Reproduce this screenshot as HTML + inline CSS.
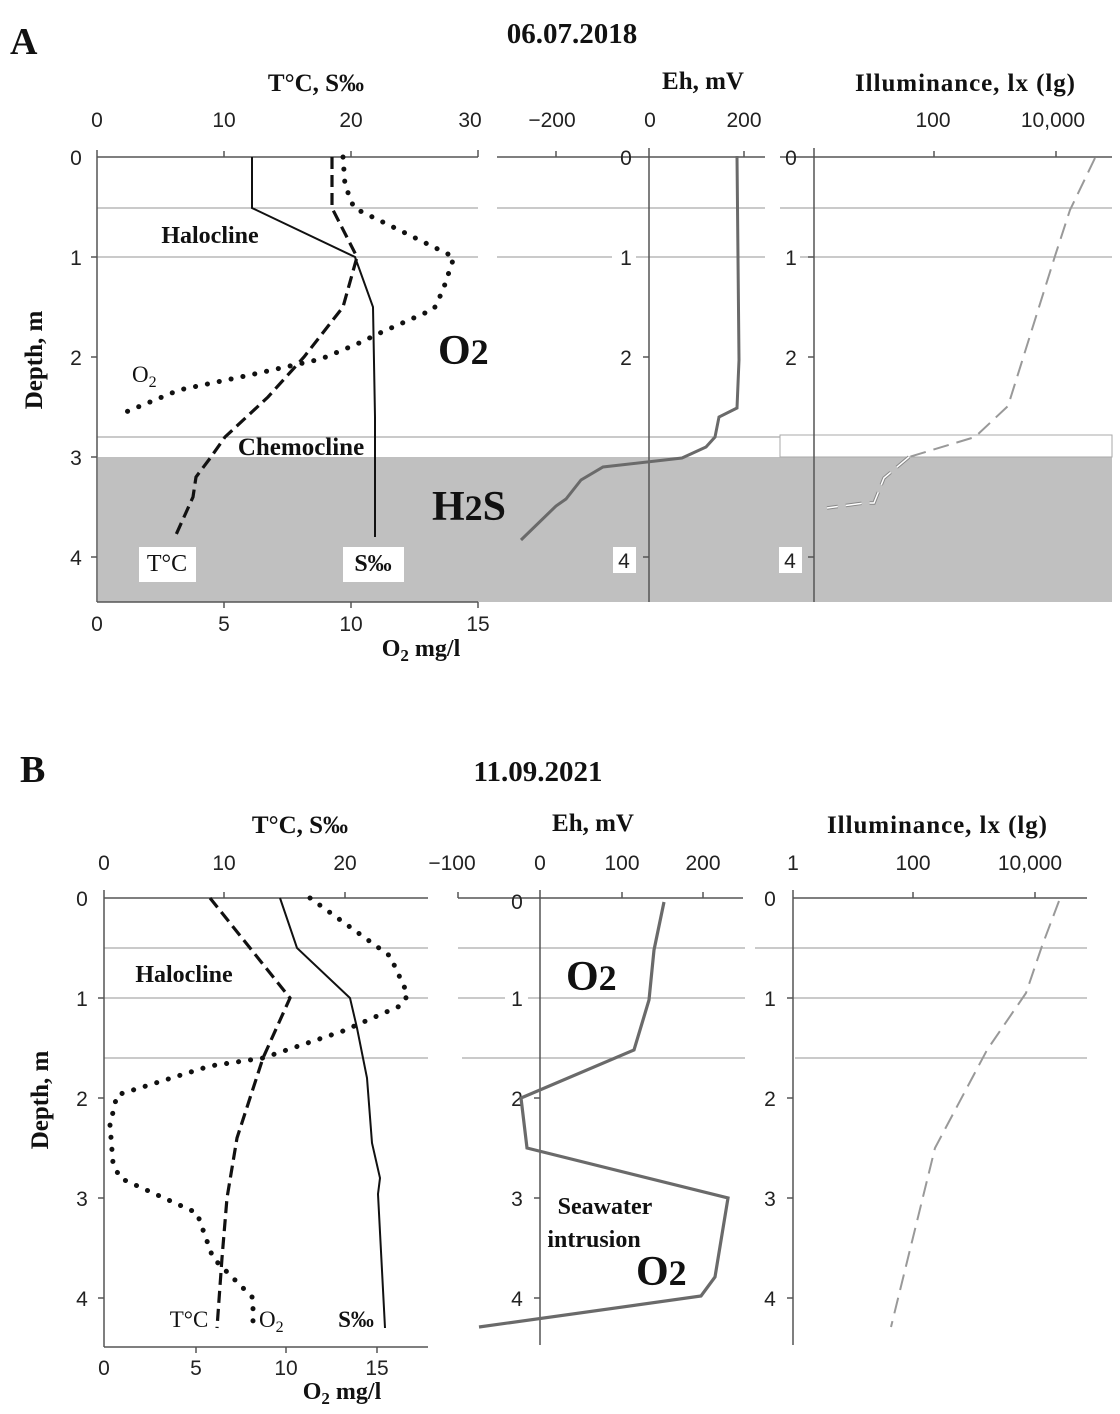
<!DOCTYPE html>
<html><head><meta charset="utf-8"><style>
html,body{margin:0;padding:0;background:#fff}
svg{display:block}
.t{font-family:"Liberation Sans",sans-serif;font-size:21px;fill:#222}
.b{font-family:"Liberation Serif",serif;font-weight:bold;fill:#111}
</style></head><body>
<svg width="1120" height="1414" viewBox="0 0 1120 1414" xmlns="http://www.w3.org/2000/svg">
<!-- ============ PANEL A ============ -->
<text class="b" x="10" y="54" font-size="38">A</text>
<text class="b" x="572" y="43" font-size="29" text-anchor="middle">06.07.2018</text>
<text class="b" x="316" y="91" font-size="25" text-anchor="middle">T°C,  S‰</text>
<text class="b" x="703" y="89" font-size="25" text-anchor="middle">Eh, mV</text>
<text class="b" x="965" y="91" font-size="25" text-anchor="middle" textLength="220">Illuminance,  lx (lg)</text>
<g class="t" text-anchor="middle">
<text x="97" y="127">0</text><text x="224" y="127">10</text><text x="351" y="127">20</text><text x="470" y="127">30</text>
<text x="552" y="127">−200</text><text x="650" y="127">0</text><text x="744" y="127">200</text>
<text x="933" y="127">100</text><text x="1053" y="127">10,000</text>
</g>
<rect x="98" y="457" width="1014" height="145" fill="#c0c0c0"/>
<rect x="780" y="435" width="332" height="22" fill="#fff" stroke="#aaa" stroke-width="1"/>
<g stroke="#aaa" stroke-width="1.3">
<line x1="97" y1="208" x2="478" y2="208"/><line x1="497" y1="208" x2="765" y2="208"/><line x1="780" y1="208" x2="1112" y2="208"/>
<line x1="97" y1="257" x2="478" y2="257"/><line x1="497" y1="257" x2="612" y2="257"/><line x1="636" y1="257" x2="765" y2="257"/><line x1="800" y1="257" x2="1112" y2="257"/>
<line x1="97" y1="437" x2="780" y2="437"/>
</g>
<g stroke="#555" stroke-width="1.5" fill="none">
<line x1="97" y1="157" x2="478" y2="157"/><line x1="97" y1="150" x2="97" y2="602"/>
<line x1="97" y1="602" x2="478" y2="602"/>
<line x1="224" y1="151" x2="224" y2="157"/><line x1="351" y1="151" x2="351" y2="157"/><line x1="478" y1="150" x2="478" y2="157"/>
<line x1="224" y1="602" x2="224" y2="608"/><line x1="351" y1="602" x2="351" y2="608"/><line x1="478" y1="602" x2="478" y2="608"/>
<line x1="91" y1="257" x2="97" y2="257"/><line x1="91" y1="357" x2="97" y2="357"/><line x1="91" y1="457" x2="97" y2="457"/><line x1="91" y1="557" x2="97" y2="557"/>
<line x1="497" y1="157" x2="765" y2="157"/><line x1="649" y1="148" x2="649" y2="602"/>
<line x1="556" y1="151" x2="556" y2="157"/><line x1="744" y1="151" x2="744" y2="157"/>
<line x1="814" y1="148" x2="814" y2="602"/><line x1="780" y1="157" x2="1112" y2="157"/>
<line x1="934" y1="151" x2="934" y2="157"/><line x1="1056" y1="151" x2="1056" y2="157"/>
<line x1="808" y1="257" x2="814" y2="257"/><line x1="808" y1="357" x2="814" y2="357"/><line x1="808" y1="557" x2="814" y2="557"/>
<line x1="643" y1="357" x2="649" y2="357"/><line x1="643" y1="557" x2="649" y2="557"/>
</g>
<g class="t" text-anchor="middle">
<text x="76" y="165">0</text><text x="76" y="265">1</text><text x="76" y="365">2</text><text x="76" y="465">3</text><text x="76" y="565">4</text>
<text x="626" y="165">0</text><text x="626" y="265">1</text><text x="626" y="365">2</text>
<text x="791" y="165">0</text><text x="791" y="265">1</text><text x="791" y="365">2</text>
</g>
<rect x="613" y="547" width="23" height="26" fill="#fff"/><text class="t" x="624" y="568" text-anchor="middle">4</text>
<rect x="779" y="547" width="23" height="26" fill="#fff"/><text class="t" x="790" y="568" text-anchor="middle">4</text>
<g class="t" text-anchor="middle">
<text x="97" y="631">0</text><text x="224" y="631">5</text><text x="351" y="631">10</text><text x="478" y="631">15</text>
</g>
<text class="b" x="421" y="656" font-size="24" text-anchor="middle">O<tspan font-size="17" dy="5">2</tspan><tspan dy="-5"> mg/l</tspan></text>
<text class="b" x="0" y="0" font-size="25" text-anchor="middle" transform="translate(42,360) rotate(-90)">Depth, m</text>
<polyline fill="none" stroke="#111" stroke-width="2" points="252,157 252,208 355,257 373,307 375,417 375,537"/>
<polyline fill="none" stroke="#111" stroke-width="3.2" stroke-dasharray="12,6" points="332,157 332,208 357,257 343,307 304,357 268,397 225,437 211,457 196,477 193,497 175,537"/>
<polyline fill="none" stroke="#111" stroke-width="5" stroke-linecap="round" stroke-dasharray="0.1,12" points="343,157 345,185 354,208 393,227 454,257 443,290 434,309 382,332 357,344 321,359 250,375 179,390 121,414"/>
<polyline fill="none" stroke="#6a6a6a" stroke-width="3" points="737,156 739,360 737,408 719,417 715,437 706,447 682,458 603,467 581,480 566,499 556,506 521,540"/>
<polyline fill="none" stroke="#999" stroke-width="2" stroke-dasharray="16,8" points="1095,158 1070,210 1055,256 1008,406 975,437 909,457"/>
<polyline fill="none" stroke="#888" stroke-width="3.5" stroke-dasharray="16,8" points="909,457 884,478 874,503 864,503 827,508"/>
<polyline fill="none" stroke="#fff" stroke-width="1.5" stroke-dasharray="16,8" points="909,457 884,478 874,503 864,503 827,508"/>
<text class="b" x="210" y="243" font-size="24" text-anchor="middle">Halocline</text>
<text class="b" x="301" y="455" font-size="25" text-anchor="middle">Chemocline</text>
<text x="132" y="382" font-family="Liberation Serif,serif" font-size="23" fill="#111">O<tspan font-size="16" dy="5">2</tspan></text>
<text class="b" x="438" y="364" font-size="42">O<tspan font-size="36">2</tspan></text>
<text class="b" x="432" y="520" font-size="42">H<tspan font-size="36">2</tspan>S</text>
<rect x="139" y="547" width="57" height="35" fill="#fff"/><text x="167" y="571" font-family="Liberation Serif,serif" font-size="24" fill="#111" text-anchor="middle">T°C</text>
<rect x="343" y="547" width="61" height="35" fill="#fff"/><text class="b" x="373" y="571" font-size="24" text-anchor="middle">S‰</text>

<!-- ============ PANEL B ============ -->
<text class="b" x="20" y="782" font-size="38">B</text>
<text class="b" x="538" y="781" font-size="29" text-anchor="middle">11.09.2021</text>
<text class="b" x="300" y="833" font-size="25" text-anchor="middle">T°C,  S‰</text>
<text class="b" x="593" y="831" font-size="25" text-anchor="middle">Eh, mV</text>
<text class="b" x="937" y="833" font-size="25" text-anchor="middle" textLength="220">Illuminance,  lx (lg)</text>
<g class="t" text-anchor="middle">
<text x="104" y="870">0</text><text x="224" y="870">10</text><text x="345" y="870">20</text>
<text x="452" y="870">−100</text><text x="540" y="870">0</text><text x="622" y="870">100</text><text x="703" y="870">200</text>
<text x="793" y="870">1</text><text x="913" y="870">100</text><text x="1030" y="870">10,000</text>
</g>
<g stroke="#aaa" stroke-width="1.3">
<line x1="104" y1="948" x2="428" y2="948"/><line x1="458" y1="948" x2="745" y2="948"/><line x1="755" y1="948" x2="1087" y2="948"/>
<line x1="104" y1="998" x2="428" y2="998"/><line x1="458" y1="998" x2="505" y2="998"/><line x1="528" y1="998" x2="745" y2="998"/><line x1="793" y1="998" x2="1087" y2="998"/>
<line x1="104" y1="1058" x2="428" y2="1058"/><line x1="462" y1="1058" x2="745" y2="1058"/><line x1="795" y1="1058" x2="1087" y2="1058"/>
</g>
<g stroke="#555" stroke-width="1.5" fill="none">
<line x1="104" y1="898" x2="428" y2="898"/><line x1="104" y1="890" x2="104" y2="1347"/><line x1="104" y1="1347" x2="428" y2="1347"/>
<line x1="224" y1="892" x2="224" y2="898"/><line x1="345" y1="892" x2="345" y2="898"/>
<line x1="196" y1="1347" x2="196" y2="1353"/><line x1="286" y1="1347" x2="286" y2="1353"/><line x1="377" y1="1347" x2="377" y2="1353"/>
<line x1="98" y1="998" x2="104" y2="998"/><line x1="98" y1="1098" x2="104" y2="1098"/><line x1="98" y1="1198" x2="104" y2="1198"/><line x1="98" y1="1298" x2="104" y2="1298"/>
<line x1="458" y1="898" x2="743" y2="898"/><line x1="458" y1="892" x2="458" y2="898"/><line x1="540" y1="890" x2="540" y2="1345"/>
<line x1="622" y1="892" x2="622" y2="898"/><line x1="703" y1="892" x2="703" y2="898"/>
<line x1="534" y1="1098" x2="540" y2="1098"/><line x1="534" y1="1198" x2="540" y2="1198"/><line x1="534" y1="1298" x2="540" y2="1298"/>
<line x1="793" y1="890" x2="793" y2="1345"/><line x1="793" y1="898" x2="1087" y2="898"/>
<line x1="913" y1="892" x2="913" y2="898"/><line x1="1035" y1="892" x2="1035" y2="898"/>
<line x1="787" y1="998" x2="793" y2="998"/><line x1="787" y1="1098" x2="793" y2="1098"/><line x1="787" y1="1198" x2="793" y2="1198"/><line x1="787" y1="1298" x2="793" y2="1298"/>
</g>
<g class="t" text-anchor="middle">
<text x="82" y="906">0</text><text x="82" y="1006">1</text><text x="82" y="1106">2</text><text x="82" y="1206">3</text><text x="82" y="1306">4</text>
<text x="517" y="909">0</text><text x="517" y="1006">1</text><text x="517" y="1106">2</text><text x="517" y="1206">3</text><text x="517" y="1306">4</text>
<text x="770" y="906">0</text><text x="770" y="1006">1</text><text x="770" y="1106">2</text><text x="770" y="1206">3</text><text x="770" y="1306">4</text>
<text x="104" y="1375">0</text><text x="196" y="1375">5</text><text x="286" y="1375">10</text><text x="377" y="1375">15</text>
</g>
<text class="b" x="342" y="1399" font-size="24" text-anchor="middle">O<tspan font-size="17" dy="5">2</tspan><tspan dy="-5"> mg/l</tspan></text>
<text class="b" x="0" y="0" font-size="25" text-anchor="middle" transform="translate(48,1100) rotate(-90)">Depth, m</text>
<polyline fill="none" stroke="#111" stroke-width="2" points="280,898 297,948 350,998 357,1028 367,1078 372,1143 380,1178 378,1194 385,1328"/>
<polyline fill="none" stroke="#111" stroke-width="3.2" stroke-dasharray="12,6" points="210,898 290,998 263,1058 237,1138 227,1198 222,1258 217,1328"/>
<polyline fill="none" stroke="#111" stroke-width="5" stroke-linecap="round" stroke-dasharray="0.1,12" points="310,898 390,956 408,995 400,1006 343,1031 263,1058 210,1066 117,1095 110,1125 113,1163 120,1178 197,1213 213,1258 253,1298 253,1328"/>
<polyline fill="none" stroke="#6a6a6a" stroke-width="3.2" points="664,902 654,950 649,1000 634,1050 521,1098 527,1148 728,1198 715,1277 701,1296 479,1327"/>
<polyline fill="none" stroke="#999" stroke-width="2" stroke-dasharray="16,8" points="1059,901 1042,946 1026,993 987,1050 935,1148 891,1327"/>
<text class="b" x="184" y="982" font-size="24" text-anchor="middle">Halocline</text>
<text class="b" x="566" y="990" font-size="42">O<tspan font-size="36">2</tspan></text>
<text class="b" x="605" y="1214" font-size="24" text-anchor="middle">Seawater</text>
<text class="b" x="594" y="1247" font-size="24" text-anchor="middle">intrusion</text>
<text class="b" x="636" y="1285" font-size="42">O<tspan font-size="36">2</tspan></text>
<text x="189" y="1327" font-family="Liberation Serif,serif" font-size="23" fill="#111" text-anchor="middle">T°C</text>
<text x="259" y="1327" font-family="Liberation Serif,serif" font-size="23" fill="#111">O<tspan font-size="16" dy="5">2</tspan></text>
<text class="b" x="356" y="1327" font-size="23" text-anchor="middle">S‰</text>
</svg>
</body></html>
